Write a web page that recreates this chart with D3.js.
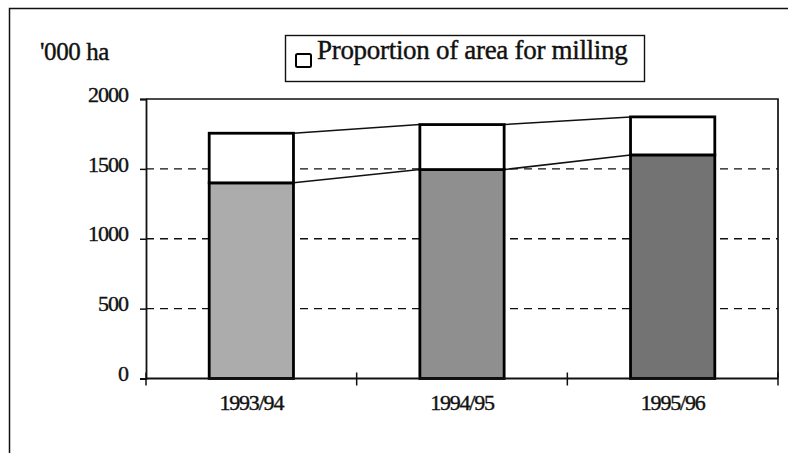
<!DOCTYPE html>
<html>
<head>
<meta charset="utf-8">
<script src="https://cdn.jsdelivr.net/npm/d3@7"></script>
<style>
  body { margin: 0; background: #fff; }
  svg { display: block; }
  svg text { font-family: "Times New Roman", "Liberation Serif", "DejaVu Serif", Times, serif; fill: #111; stroke: #111; stroke-width: 0.4px; }
</style>
</head>
<body>
<div id="vis"></div>
<script>
var width = 788,
    height = 453;

// data ('000 ha)
var seasons = ["1993/94", "1994/95", "1995/96"];
var totalArea = [1755, 1817, 1872];
var otherArea = [1400, 1495, 1600];
var barShades = ["#acacac", "#8f8f8f", "#737373"];
var yTicks = [0, 500, 1000, 1500, 2000];
var gridTicks = [500, 1000, 1500];
var unitLabel = "'000 ha";
var legendLabel = "Proportion of area for milling";

var margin = {left: 146, right: 10, top: 99, bottom: 74.5};

var svg = d3.select("#vis").append("svg")
    .attr("width", width)
    .attr("height", height);

// outer frame, right and bottom edges run off the page
svg.append("path")
    .attr("d", "M9.5," + height + "V8.5H" + width)
    .style("fill", "none")
    .style("stroke", "#111")
    .style("stroke-width", 1.5);

var x = d3.scaleBand()
    .domain(seasons)
    .range([margin.left, width - margin.right])
    .paddingInner(0.6)
    .paddingOuter(0.3);

var y = d3.scaleLinear()
    .domain([0, 2000])
    .range([height - margin.bottom, margin.top]);

var step = x.step();

// dashed grid
svg.selectAll(".grid")
    .data(gridTicks)
    .enter()
    .append("line")
    .attr("class", "grid")
    .attr("x1", margin.left)
    .attr("x2", width - margin.right)
    .attr("y1", function(d) { return y(d); })
    .attr("y2", function(d) { return y(d); })
    .style("stroke", "#111")
    .style("stroke-width", 1.4)
    .style("stroke-dasharray", "8,6");

// plot frame top + right
svg.append("path")
    .attr("d", "M" + margin.left + "," + y(2000) + "H" + (width - margin.right) + "V" + y(0))
    .style("fill", "none")
    .style("stroke", "#111")
    .style("stroke-width", 1.7);

// series lines joining the bar tops
function joinLines(values, cls) {
  var segs = d3.range(values.length - 1);
  svg.selectAll("." + cls)
      .data(segs)
      .enter()
      .append("line")
      .attr("class", cls)
      .attr("x1", function(i) { return x(seasons[i]) + x.bandwidth(); })
      .attr("y1", function(i) { return y(values[i]); })
      .attr("x2", function(i) { return x(seasons[i + 1]); })
      .attr("y2", function(i) { return y(values[i + 1]); })
      .style("stroke", "#111")
      .style("stroke-width", 1.5);
}
joinLines(totalArea, "jtop");
joinLines(otherArea, "jlow");

// stacked bars
var bars = svg.selectAll(".bar")
    .data(seasons)
    .enter()
    .append("g")
    .attr("class", "bar");

bars.append("rect")
    .attr("x", function(d) { return x(d); })
    .attr("y", function(d, i) { return y(otherArea[i]); })
    .attr("width", x.bandwidth())
    .attr("height", function(d, i) { return y(0) - y(otherArea[i]); })
    .style("fill", function(d, i) { return barShades[i]; })
    .style("stroke", "#000")
    .style("stroke-width", 2.8);

bars.append("rect")
    .attr("x", function(d) { return x(d); })
    .attr("y", function(d, i) { return y(totalArea[i]); })
    .attr("width", x.bandwidth())
    .attr("height", function(d, i) { return y(otherArea[i]) - y(totalArea[i]); })
    .style("fill", "#fff")
    .style("stroke", "#000")
    .style("stroke-width", 2.8);

// y axis
var yAxis = svg.append("g")
    .attr("transform", "translate(" + margin.left + ",0)")
    .call(d3.axisLeft(y).tickValues(yTicks).tickFormat(d3.format("d")).tickSize(6).tickPadding(12))
    .attr("font-family", null)
    .attr("font-size", null);
yAxis.select(".domain").style("stroke", "#111").style("stroke-width", 1.8);
yAxis.selectAll("line").style("stroke", "#111").style("stroke-width", 1.5);
yAxis.selectAll("text")
    .style("font-size", "22px")
    .style("letter-spacing", "-1px")
    .attr("dy", "0.1em");

// x axis with ticks between categories
var xAxis = svg.append("g")
    .attr("transform", "translate(0," + y(0) + ")");
xAxis.append("line")
    .attr("x1", margin.left)
    .attr("x2", width - margin.right)
    .style("stroke", "#111")
    .style("stroke-width", 1.8);
xAxis.selectAll(".xtick")
    .data(d3.range(seasons.length + 1))
    .enter()
    .append("line")
    .attr("class", "xtick")
    .attr("x1", function(i) { return margin.left + i * step; })
    .attr("x2", function(i) { return margin.left + i * step; })
    .attr("y1", -6)
    .attr("y2", 7)
    .style("stroke", "#111")
    .style("stroke-width", 1.5);
xAxis.selectAll(".xlab")
    .data(seasons)
    .enter()
    .append("text")
    .attr("class", "xlab")
    .attr("x", function(d) { return x(d) + x.bandwidth() / 2; })
    .attr("y", 31)
    .attr("text-anchor", "middle")
    .style("font-size", "22px")
    .style("letter-spacing", "-1.2px")
    .text(function(d) { return d; });

// unit label
svg.append("text")
    .attr("x", 40)
    .attr("y", 60)
    .style("font-size", "25px")
    .style("letter-spacing", "-0.4px")
    .text(unitLabel);

// legend
var legend = svg.append("g").attr("id", "legend");
legend.append("rect")
    .attr("x", 285.5)
    .attr("y", 35.5)
    .attr("width", 359)
    .attr("height", 46)
    .style("fill", "#fff")
    .style("stroke", "#111")
    .style("stroke-width", 1.4);
legend.append("rect")
    .attr("x", 296)
    .attr("y", 54)
    .attr("width", 15)
    .attr("height", 13)
    .attr("rx", 1.5)
    .style("fill", "#fff")
    .style("stroke", "#000")
    .style("stroke-width", 2);
legend.append("text")
    .attr("x", 317)
    .attr("y", 59)
    .style("font-size", "27px")
    .style("letter-spacing", "-0.3px")
    .text(legendLabel);
</script>
</body>
</html>
